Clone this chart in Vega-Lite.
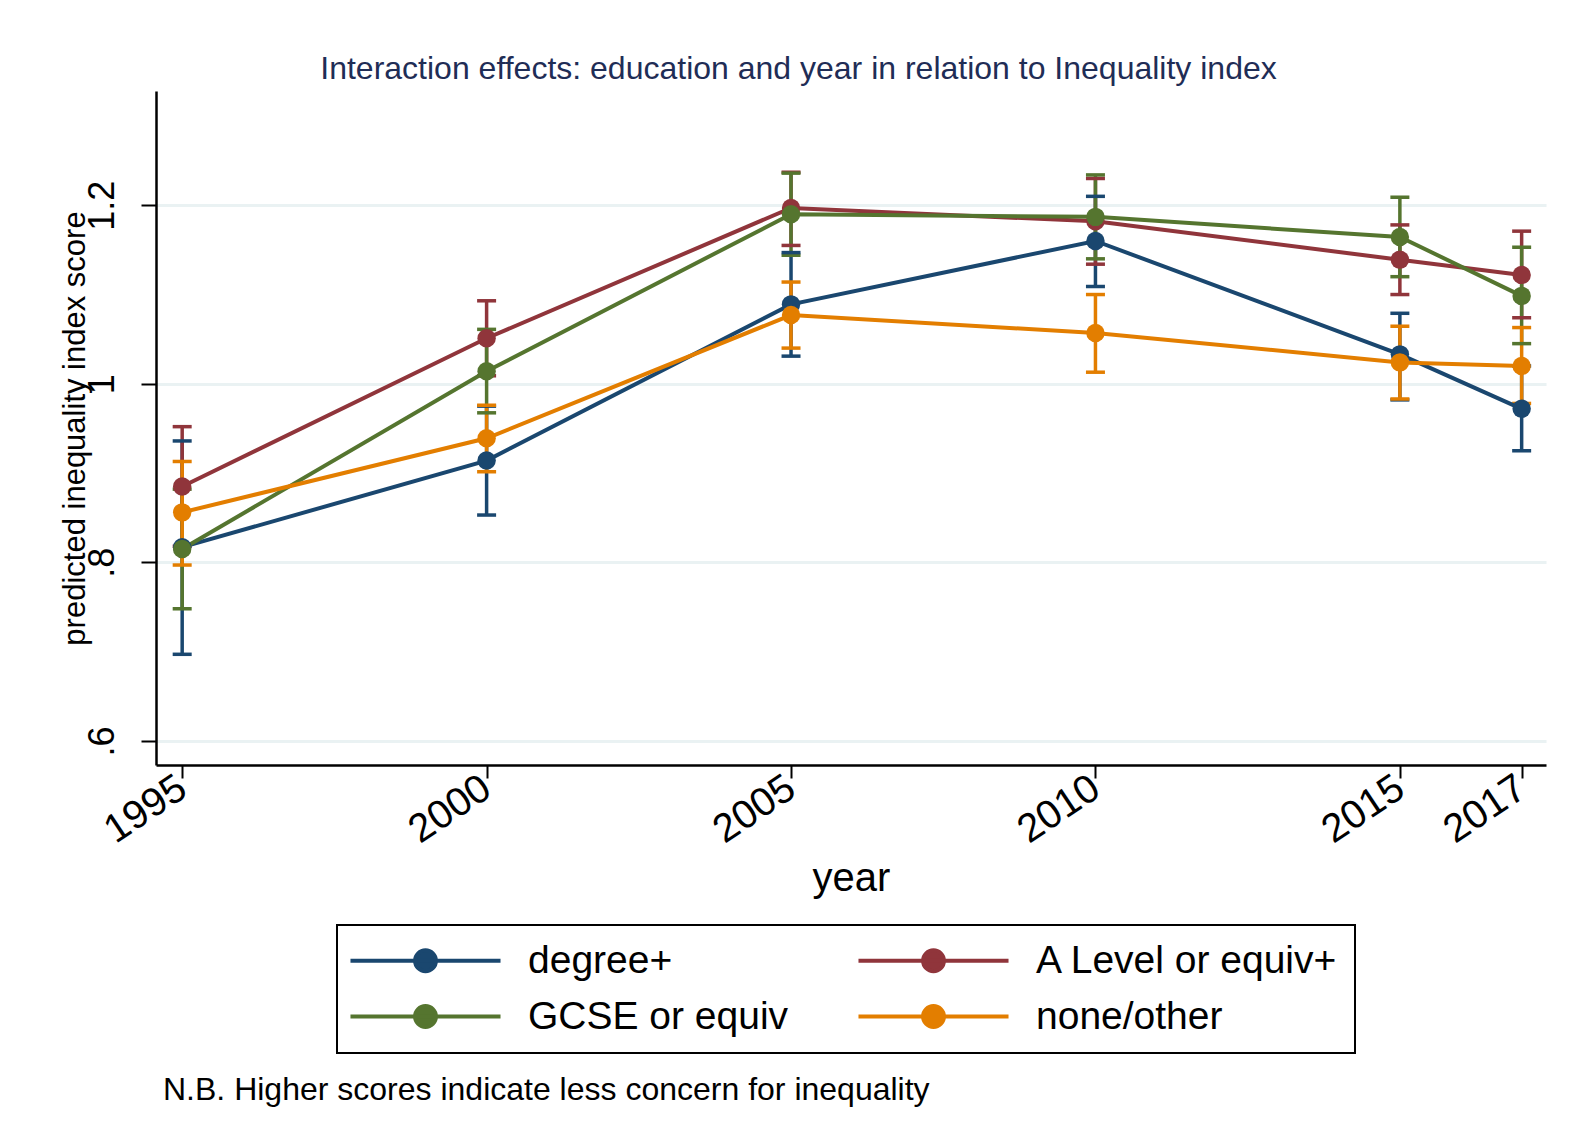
{
  "$schema": "https://vega.github.io/schema/vega-lite/v6.json",
  "background": "white",
  "padding": {"left": 58, "top": 53, "right": 10, "bottom": 10},
  "config": {
    "font": "Liberation Sans",
    "view": {"stroke": null},
    "axis": {"labelFont": "Liberation Sans", "titleFont": "Liberation Sans", "labelColor": "black", "titleColor": "black", "titleFontWeight": "normal", "domainColor": "black", "domainWidth": 2.5, "tickColor": "black", "tickWidth": 2, "labelOverlap": false, "labelFlush": false}
  },
  "title": {"text": "N.B. Higher scores indicate less concern for inequality", "orient": "bottom", "anchor": "start", "baseline": "top", "fontSize": 32, "fontWeight": "normal", "color": "black", "font": "Liberation Sans", "dx": 104, "offset": 21},
  "vconcat": [
    {
      "width": 1390,
      "height": 674,
      "title": {"text": "Interaction effects: education and year in relation to Inequality index", "fontSize": 32, "fontWeight": "normal", "color": "#1f2d56", "anchor": "middle", "frame": "bounds", "offset": 5, "dx": -4, "font": "Liberation Sans"},
      "data": {"values": [
        {"yr": 1995, "grp": "degree+", "m": 0.817, "lo": 0.697, "hi": 0.936},
        {"yr": 2000, "grp": "degree+", "m": 0.914, "lo": 0.853, "hi": 0.975},
        {"yr": 2005, "grp": "degree+", "m": 1.089, "lo": 1.031, "hi": 1.147},
        {"yr": 2010, "grp": "degree+", "m": 1.160, "lo": 1.109, "hi": 1.210},
        {"yr": 2015, "grp": "degree+", "m": 1.033, "lo": 0.982, "hi": 1.079},
        {"yr": 2017, "grp": "degree+", "m": 0.972, "lo": 0.925, "hi": 1.020},
        {"yr": 1995, "grp": "A Level or equiv+", "m": 0.885, "lo": 0.818, "hi": 0.952},
        {"yr": 2000, "grp": "A Level or equiv+", "m": 1.051, "lo": 1.009, "hi": 1.093},
        {"yr": 2005, "grp": "A Level or equiv+", "m": 1.197, "lo": 1.155, "hi": 1.237},
        {"yr": 2010, "grp": "A Level or equiv+", "m": 1.182, "lo": 1.134, "hi": 1.230},
        {"yr": 2015, "grp": "A Level or equiv+", "m": 1.139, "lo": 1.100, "hi": 1.178},
        {"yr": 2017, "grp": "A Level or equiv+", "m": 1.122, "lo": 1.074, "hi": 1.171},
        {"yr": 1995, "grp": "GCSE or equiv", "m": 0.815, "lo": 0.748, "hi": 0.882},
        {"yr": 2000, "grp": "GCSE or equiv", "m": 1.014, "lo": 0.9675, "hi": 1.061},
        {"yr": 2005, "grp": "GCSE or equiv", "m": 1.190, "lo": 1.144, "hi": 1.236},
        {"yr": 2010, "grp": "GCSE or equiv", "m": 1.187, "lo": 1.140, "hi": 1.234},
        {"yr": 2015, "grp": "GCSE or equiv", "m": 1.1645, "lo": 1.120, "hi": 1.209},
        {"yr": 2017, "grp": "GCSE or equiv", "m": 1.0985, "lo": 1.045, "hi": 1.153},
        {"yr": 1995, "grp": "none/other", "m": 0.856, "lo": 0.797, "hi": 0.913},
        {"yr": 2000, "grp": "none/other", "m": 0.939, "lo": 0.9015, "hi": 0.976},
        {"yr": 2005, "grp": "none/other", "m": 1.077, "lo": 1.040, "hi": 1.114},
        {"yr": 2010, "grp": "none/other", "m": 1.057, "lo": 1.013, "hi": 1.100},
        {"yr": 2015, "grp": "none/other", "m": 1.024, "lo": 0.983, "hi": 1.0645},
        {"yr": 2017, "grp": "none/other", "m": 1.020, "lo": 0.978, "hi": 1.063}
      ]},
      "encoding": {
        "x": {
          "field": "yr", "type": "quantitative",
          "scale": {"domain": [1994.57, 2017.4], "nice": false, "zero": false},
          "axis": {"values": [1995, 2000, 2005, 2010, 2015, 2017], "format": "d", "title": "year", "titleFontSize": 40, "titlePadding": 8, "labelFontSize": 40, "labelAngle": -34, "labelAlign": "right", "labelBaseline": "middle", "labelPadding": 6, "tickSize": 13, "grid": false}
        },
        "color": {
          "field": "grp", "type": "nominal",
          "scale": {"domain": ["degree+", "A Level or equiv+", "GCSE or equiv", "none/other"], "range": ["#1a476f", "#90353b", "#55752f", "#e37e00"]},
          "legend": {
            "orient": "none", "legendX": 181, "legendY": 834,
            "title": null, "columns": 2, "direction": "horizontal", "gridAlign": "all",
            "symbolType": "M-6.82,0L6.82,0M-0.95,0A0.95,0.95,0,1,0,0.95,0A0.95,0.95,0,1,0,-0.95,0Z",
            "symbolSize": 484, "symbolStrokeWidth": 4, "symbolOffset": 53, "symbolOpacity": 1,
            "labelFontSize": 39, "labelFont": "Liberation Sans", "labelColor": "black", "labelOffset": 83, "labelLimit": 600, "labelBaseline": "middle",
            "columnPadding": 19, "rowPadding": 16, "padding": 16,
            "strokeColor": "black",
            "encode": {
              "legend": {"update": {"strokeWidth": {"value": 2}}},
              "symbols": {"update": {"fill": {"scale": "color", "field": "value"}, "stroke": {"scale": "color", "field": "value"}}}
            }
          }
        }
      },
      "layer": [
        {
          "mark": {"type": "rule", "strokeWidth": 3.5},
          "encoding": {
            "y": {"field": "lo", "type": "quantitative", "scale": {"domain": [0.573, 1.328], "nice": false, "zero": false},
              "axis": {"values": [0.6, 0.8, 1, 1.2], "labelExpr": "datum.value == 1 ? '1' : datum.value == 1.2 ? '1.2' : datum.value == 0.8 ? '.8' : '.6'", "title": "predicted inequality index score", "titleFontSize": 31, "titlePadding": -7, "labelFontSize": 36, "labelAngle": -90, "labelAlign": "center", "labelBaseline": "bottom", "labelPadding": 20, "tickSize": 15, "grid": true, "gridColor": "#eaf2f3", "gridWidth": 3}},
            "y2": {"field": "hi"}
          }
        },
        {
          "mark": {"type": "tick", "orient": "horizontal", "size": 19, "thickness": 3.5, "opacity": 1},
          "encoding": {
            "y": {"field": "lo", "type": "quantitative", "scale": {"domain": [0.573, 1.328], "nice": false, "zero": false},
              "axis": {"values": [0.6, 0.8, 1, 1.2], "labelExpr": "datum.value == 1 ? '1' : datum.value == 1.2 ? '1.2' : datum.value == 0.8 ? '.8' : '.6'", "title": "predicted inequality index score", "titleFontSize": 31, "titlePadding": -7, "labelFontSize": 36, "labelAngle": -90, "labelAlign": "center", "labelBaseline": "bottom", "labelPadding": 20, "tickSize": 15, "grid": true, "gridColor": "#eaf2f3", "gridWidth": 3}}
          }
        },
        {
          "mark": {"type": "tick", "orient": "horizontal", "size": 19, "thickness": 3.5, "opacity": 1},
          "encoding": {
            "y": {"field": "hi", "type": "quantitative", "scale": {"domain": [0.573, 1.328], "nice": false, "zero": false},
              "axis": {"values": [0.6, 0.8, 1, 1.2], "labelExpr": "datum.value == 1 ? '1' : datum.value == 1.2 ? '1.2' : datum.value == 0.8 ? '.8' : '.6'", "title": "predicted inequality index score", "titleFontSize": 31, "titlePadding": -7, "labelFontSize": 36, "labelAngle": -90, "labelAlign": "center", "labelBaseline": "bottom", "labelPadding": 20, "tickSize": 15, "grid": true, "gridColor": "#eaf2f3", "gridWidth": 3}}
          }
        },
        {
          "mark": {"type": "line", "strokeWidth": 4},
          "encoding": {
            "y": {"field": "m", "type": "quantitative", "scale": {"domain": [0.573, 1.328], "nice": false, "zero": false},
              "axis": {"values": [0.6, 0.8, 1, 1.2], "labelExpr": "datum.value == 1 ? '1' : datum.value == 1.2 ? '1.2' : datum.value == 0.8 ? '.8' : '.6'", "title": "predicted inequality index score", "titleFontSize": 31, "titlePadding": -7, "labelFontSize": 36, "labelAngle": -90, "labelAlign": "center", "labelBaseline": "bottom", "labelPadding": 20, "tickSize": 15, "grid": true, "gridColor": "#eaf2f3", "gridWidth": 3}}
          }
        },
        {
          "mark": {"type": "circle", "size": 340, "opacity": 1},
          "encoding": {
            "y": {"field": "m", "type": "quantitative", "scale": {"domain": [0.573, 1.328], "nice": false, "zero": false},
              "axis": {"values": [0.6, 0.8, 1, 1.2], "labelExpr": "datum.value == 1 ? '1' : datum.value == 1.2 ? '1.2' : datum.value == 0.8 ? '.8' : '.6'", "title": "predicted inequality index score", "titleFontSize": 31, "titlePadding": -7, "labelFontSize": 36, "labelAngle": -90, "labelAlign": "center", "labelBaseline": "bottom", "labelPadding": 20, "tickSize": 15, "grid": true, "gridColor": "#eaf2f3", "gridWidth": 3}}
          }
        }
      ]
    }
  ]
}
